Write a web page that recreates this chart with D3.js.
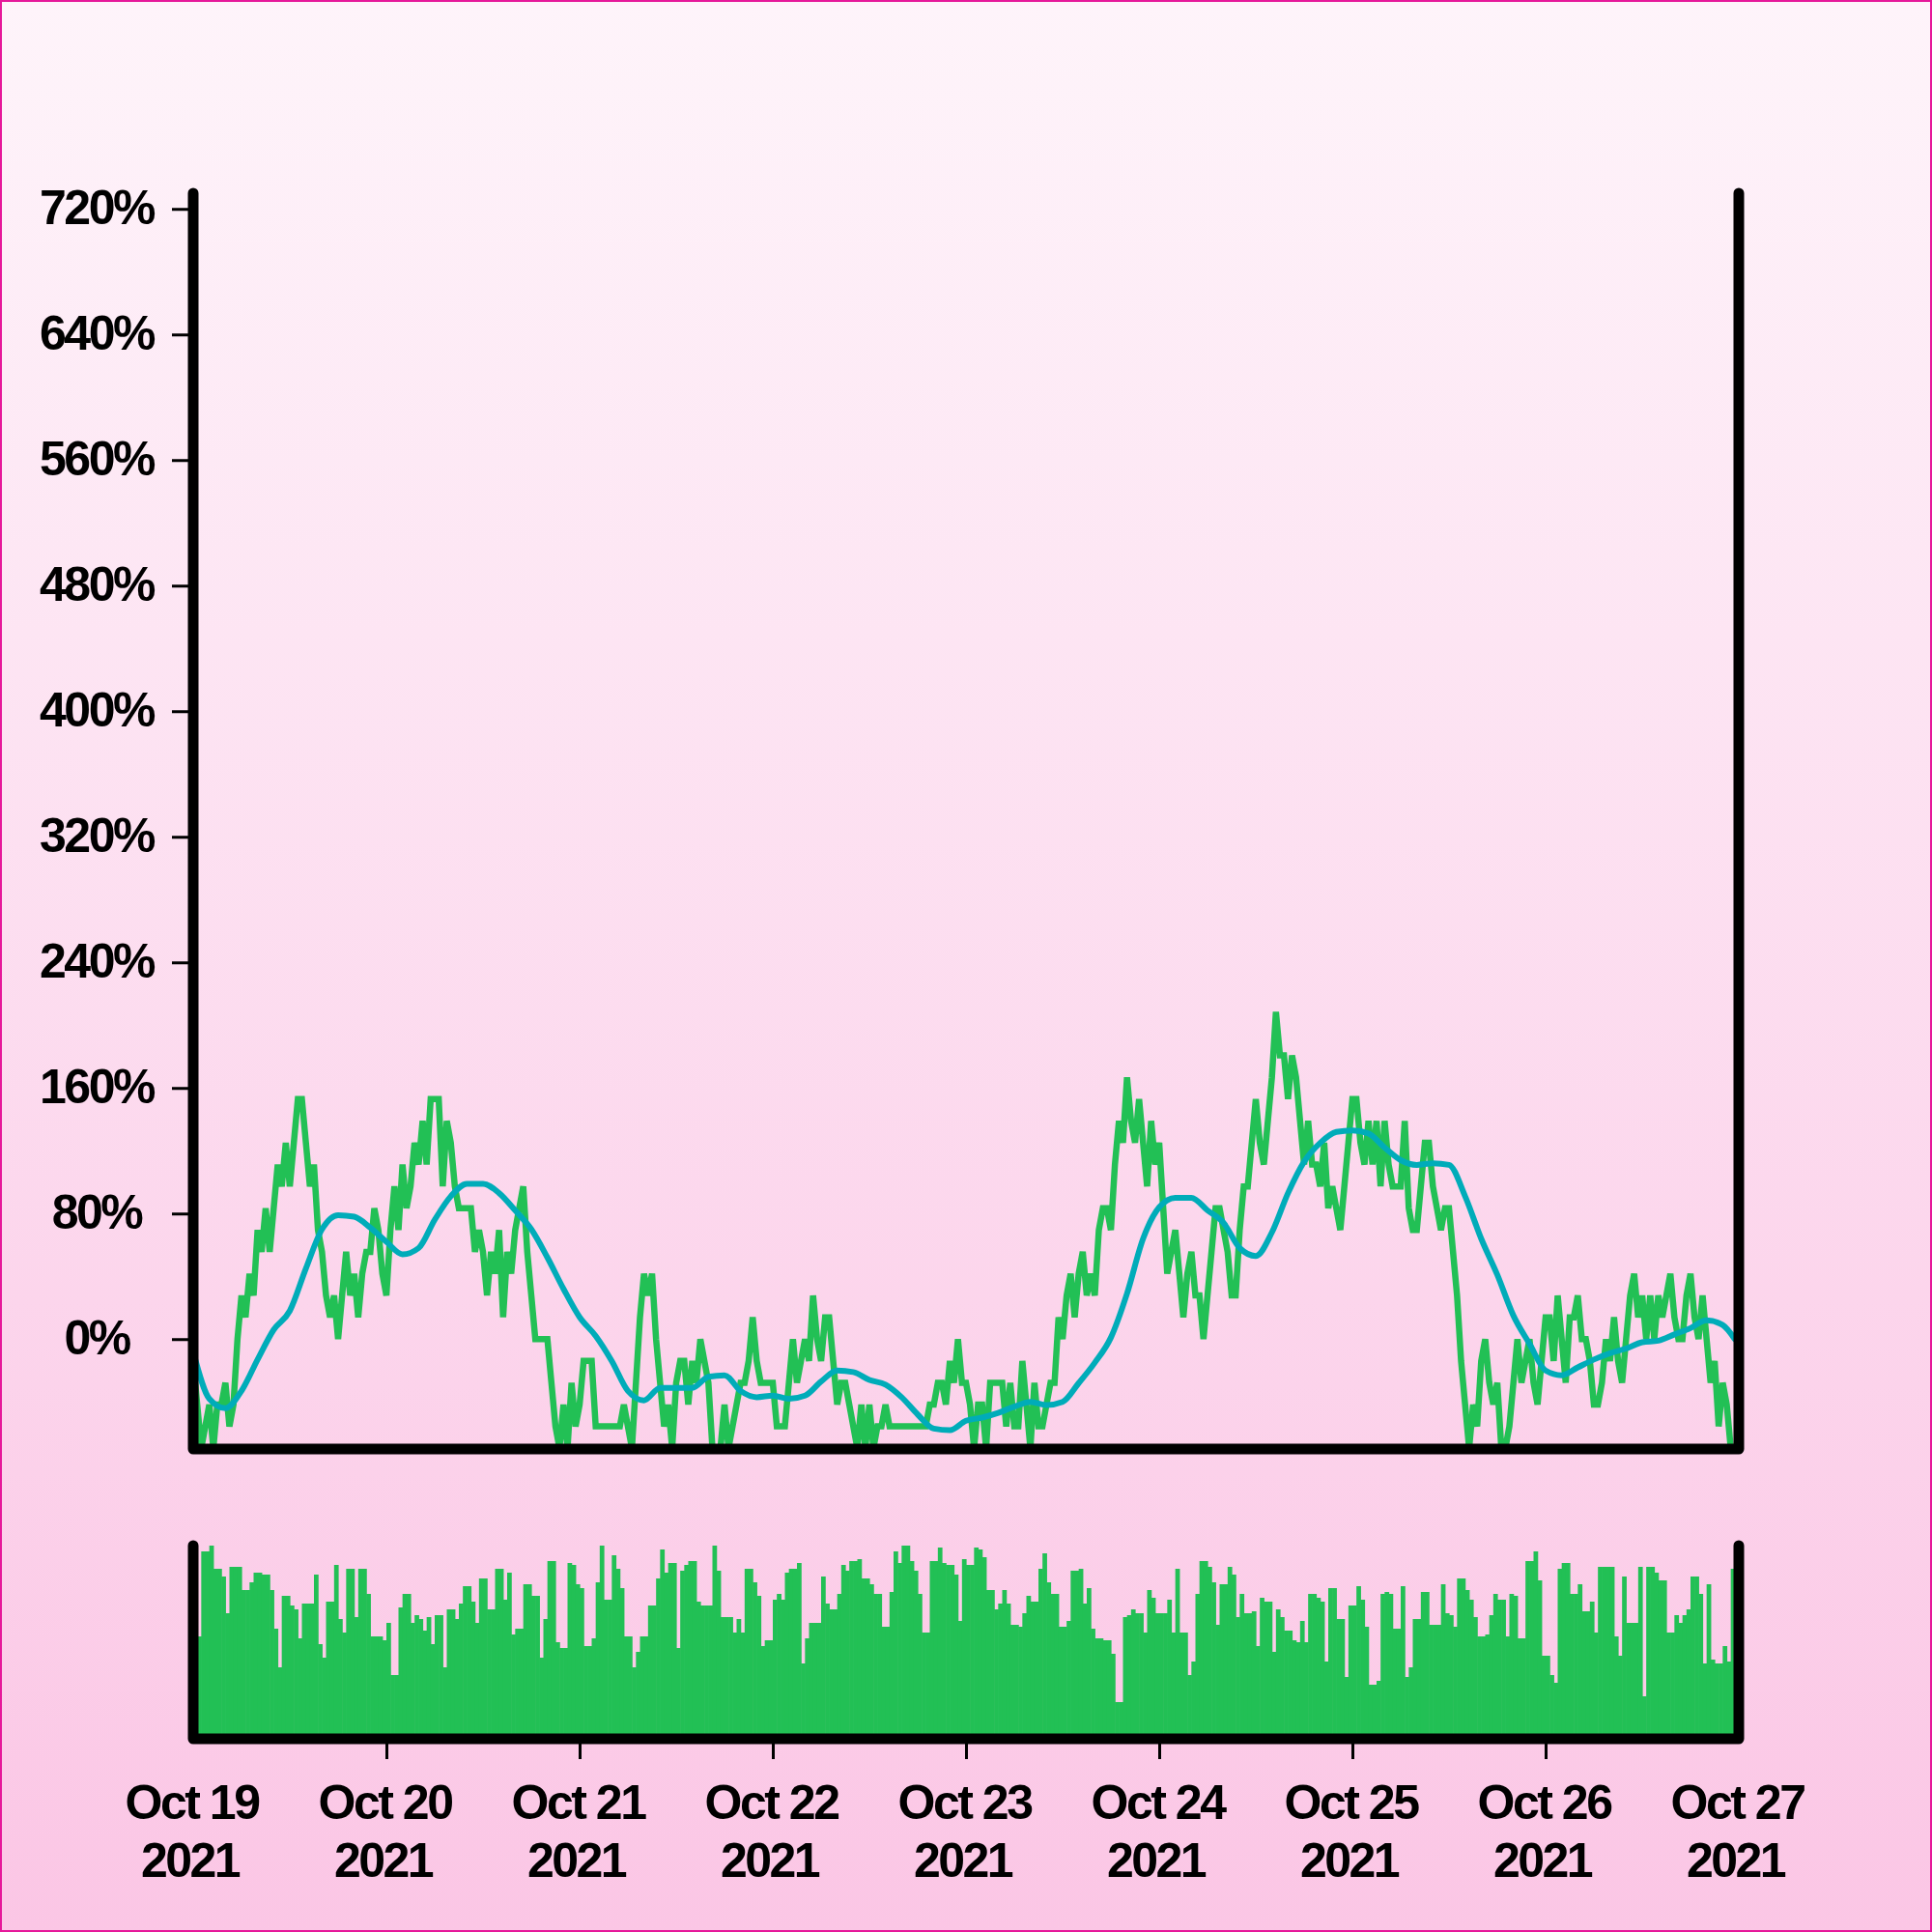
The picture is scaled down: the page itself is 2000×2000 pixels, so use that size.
<!DOCTYPE html>
<html><head><meta charset="utf-8">
<script src="https://cdn.jsdelivr.net/npm/d3@7"></script>
<style>
html,body{margin:0;padding:0;background:#fff;}
svg{display:block;}
</style></head><body>
<svg id="chart" width="2000" height="2000"></svg>
<script>
const startDate = new Date(2021, 9, 19);
const endDate = new Date(2021, 9, 27);
const stepMinutes = 30;
const yTicks = [0, 80, 160, 240, 320, 400, 480, 560, 640, 720];
const yDomain = [-70, 730];

// price change (%) every 30 minutes
const priceChange = [
-13.9,-41.7,-69.5,-55.6,-41.7,-69.5,-41.7,-41.7,-27.8,-55.6,
-41.7,0,27.8,13.9,41.7,27.8,69.5,55.6,83.4,55.6,
83.4,111.2,97.3,125.1,97.3,125.1,152.9,152.9,125.1,97.3,
111.2,69.5,55.6,27.8,13.9,27.8,0,27.8,55.6,27.8,
41.7,13.9,41.7,55.6,55.6,83.4,69.5,41.7,27.8,69.5,
97.3,69.5,111.2,83.4,97.3,125.1,111.2,139,111.2,152.9,
152.9,152.9,97.3,139,125.1,97.3,83.4,83.4,83.4,83.4,
55.6,69.5,55.6,27.8,55.6,41.7,69.5,13.9,55.6,41.7,
69.5,83.4,97.3,55.6,27.8,0,0,0,0,-27.8,
-55.6,-69.5,-41.7,-69.5,-27.8,-55.6,-41.7,-13.9,-13.9,-13.9,
-55.6,-55.6,-55.6,-55.6,-55.6,-55.6,-55.6,-41.7,-55.6,-69.5,
-27.8,13.9,41.7,27.8,41.7,0,-27.8,-55.6,-41.7,-69.5,
-27.8,-13.9,-13.9,-41.7,-13.9,-27.8,0,-13.9,-27.8,-69.5,
-69.5,-69.5,-41.7,-69.5,-55.6,-41.7,-27.8,-27.8,-13.9,13.9,
-13.9,-27.8,-27.8,-27.8,-27.8,-55.6,-55.6,-55.6,-27.8,0,
-27.8,-13.9,0,-13.9,27.8,0,-13.9,13.9,13.9,-13.9,
-41.7,-27.8,-27.8,-41.7,-55.6,-69.5,-41.7,-69.5,-41.7,-69.5,
-55.6,-55.6,-41.7,-55.6,-55.6,-55.6,-55.6,-55.6,-55.6,-55.6,
-55.6,-55.6,-55.6,-41.7,-41.7,-27.8,-27.8,-41.7,-13.9,-27.8,
0,-27.8,-27.8,-41.7,-69.5,-41.7,-41.7,-69.5,-27.8,-27.8,
-27.8,-27.8,-55.6,-27.8,-55.6,-55.6,-13.9,-41.7,-69.5,-27.8,
-55.6,-55.6,-41.7,-27.8,-27.8,13.9,0,27.8,41.7,13.9,
41.7,55.6,27.8,41.7,27.8,69.5,83.4,83.4,69.5,111.2,
139,125.1,166.8,139,125.1,152.9,125.1,97.3,139,111.2,
125.1,83.4,41.7,55.6,69.5,41.7,13.9,41.7,55.6,27.8,
27.8,0,27.8,55.6,83.4,83.4,69.5,55.6,27.8,27.8,
69.5,97.3,97.3,125.1,152.9,125.1,111.2,139,166.8,208.5,
180.7,180.7,152.9,180.7,166.8,139,111.2,139,111.2,111.2,
97.3,125.1,83.4,97.3,83.4,69.5,97.3,125.1,152.9,152.9,
125.1,111.2,139,111.2,139,97.3,139,111.2,97.3,97.3,
97.3,139,83.4,69.5,69.5,97.3,125.1,125.1,97.3,83.4,
69.5,83.4,83.4,55.6,27.8,-13.9,-41.7,-69.5,-41.7,-55.6,
-13.9,0,-27.8,-41.7,-27.8,-69.5,-69.5,-55.6,-27.8,0,
-27.8,-13.9,0,-27.8,-41.7,-13.9,13.9,13.9,-13.9,27.8,
0,-27.8,13.9,13.9,27.8,0,0,-13.9,-41.7,-41.7,
-27.8,0,-13.9,13.9,-13.9,-27.8,0,27.8,41.7,13.9,
27.8,0,27.8,0,27.8,13.9,27.8,41.7,13.9,0,
0,27.8,41.7,13.9,0,27.8,0,-27.8,-13.9,-55.6,
-27.8,-41.7,-69.5,-69.5
];

// moving average (%) sampled every 2 hours
const movingAvgHours = [0,2,4,6,8,10,12,14,16,18,20,22,24,26,28,30,32,34,36,38,40,42,44,46,48,50,52,54,56,58,60,62,64,66,68,70,72,74,76,78,80,82,84,86,88,90,92,94,96,98,100,102,104,106,108,110,112,114,116,118,120,122,124,126,128,130,132,134,136,138,140,142,144,146,148,150,152,154,156,158,160,162,164,166,168,170,172,174,176,178,180,182,184,186,188,190,191.5];
const movingAvg = [
-8,-38,-44,-33,-13,6,18,45,70,79,
78,71,62,54,58,76,91,99,99,93,
82,70,52,32,14,2,-14,-33,-39,-31,
-31,-31,-24,-23,-33,-37,-36,-38,-36,-27,
-20,-21,-26,-29,-37,-48,-57,-58,-52,-50,
-47,-43,-40,-42,-40,-28,-15,1,29,64,
84,90,90,82,74,58,53,68,93,113,
125,132,133,131,122,114,111,112,111,91,
64,41,15,-3,-20,-23,-18,-13,-9,-6,
-2,-1,3,7,12,9,0
];

// volume (relative) every 30 minutes
const volume = [
53,53,97,97,100,88,88,84,65,89,89,89,
77,77,81,86,86,85,85,77,57,37,74,74,
69,67,52,70,70,70,85,49,42,71,71,90,
62,55,88,88,63,88,88,75,53,53,53,51,
60,33,33,68,75,75,60,64,62,56,63,49,
64,64,37,67,67,62,70,79,79,71,60,83,
83,67,67,88,88,72,86,54,57,57,80,80,
74,74,42,62,92,92,50,47,47,91,90,80,
78,48,48,52,81,100,72,72,95,88,78,53,
53,37,45,53,53,69,69,83,98,86,91,91,
47,87,90,92,92,71,69,69,69,100,87,63,
63,63,55,62,55,88,88,81,74,48,51,51,
72,75,72,86,88,88,91,39,52,60,60,60,
84,70,67,67,75,90,87,92,92,93,83,83,
80,75,75,58,58,76,97,91,100,100,92,87,
75,55,55,92,92,99,91,90,90,85,61,93,
90,90,99,98,94,77,77,67,70,77,70,59,
59,58,65,74,71,71,88,96,81,75,75,58,
58,61,87,87,88,70,78,57,52,52,51,51,
44,19,19,63,64,67,65,65,55,77,73,65,
65,65,72,55,88,55,55,33,40,75,92,92,
89,81,59,80,80,89,85,63,75,65,65,66,
48,73,71,71,45,67,63,56,56,51,50,61,
50,75,75,73,71,40,78,78,62,62,32,69,
69,79,72,58,28,28,30,75,76,75,57,57,
79,32,37,62,62,76,76,59,59,59,80,65,
64,58,83,83,77,72,63,53,53,54,64,75,
72,72,53,75,74,52,52,92,92,97,82,43,
43,33,29,88,91,91,75,75,80,66,66,71,
55,89,89,89,89,53,43,84,60,60,60,89,
22,89,89,86,82,82,55,55,64,60,64,67,
84,84,75,39,80,41,39,39,48,40,88,91
];

const GREEN = "#22c055";
const TEAL = "#00acb9";
const FONT = "'Liberation Sans', Arial, Helvetica, sans-serif";

const svg = d3.select("#chart");
const defs = svg.append("defs");
const grad = defs.append("linearGradient").attr("id", "bg")
  .attr("x1", 0).attr("y1", 0).attr("x2", 0).attr("y2", 1);
grad.append("stop").attr("offset", "0%").attr("stop-color", "#fef4fa");
grad.append("stop").attr("offset", "100%").attr("stop-color", "#fbc6e5");
svg.append("rect").attr("width", 2000).attr("height", 2000).attr("fill", "url(#bg)");
svg.append("rect").attr("x", 1).attr("y", 1).attr("width", 1998).attr("height", 1998)
  .attr("fill", "none").attr("stroke", "#e6189a").attr("stroke-width", 2);

const x = d3.scaleTime().domain([startDate, endDate]).range([200, 1800]);
const y = d3.scaleLinear().domain(yDomain).range([1500, 200]);
const yv = d3.scaleLinear().domain([0, d3.max(volume)]).range([1800, 1600]);
const times = priceChange.map((_, i) => d3.timeMinute.offset(startDate, i * stepMinutes));

// volume bars
svg.append("g").selectAll("rect").data(volume).join("rect")
  .attr("x", (d, i) => x(times[i]))
  .attr("width", (d, i) => x(d3.timeMinute.offset(times[i], stepMinutes)) - x(times[i]) + 0.6)
  .attr("y", d => yv(d))
  .attr("height", d => yv(0) - yv(d))
  .attr("fill", GREEN);

// price line
svg.append("path").datum(priceChange)
  .attr("fill", "none").attr("stroke", GREEN).attr("stroke-width", 6.5)
  .attr("d", d3.line().x((d, i) => x(times[i])).y(d => y(d)));

// moving average
svg.append("path").datum(movingAvg)
  .attr("fill", "none").attr("stroke", TEAL).attr("stroke-width", 6).attr("stroke-linecap", "round")
  .attr("d", d3.line()
    .x((d, i) => x(d3.timeMinute.offset(startDate, movingAvgHours[i] * 60)))
    .y(d => y(d)).curve(d3.curveMonotoneX));

// frames
const [xl, xr] = x.range();
const [yb, yt] = y.range();
const [vb, vt] = yv.range();
svg.append("path").attr("d", `M${xl},${yt}V${yb}H${xr}V${yt}`)
  .attr("fill", "none").attr("stroke", "#000").attr("stroke-width", 11)
  .attr("stroke-linecap", "round").attr("stroke-linejoin", "round");
svg.append("path").attr("d", `M${xl},${vt}V${vb}H${xr}V${vt}`)
  .attr("fill", "none").attr("stroke", "#000").attr("stroke-width", 11)
  .attr("stroke-linecap", "round").attr("stroke-linejoin", "round");

// y axis
const yAxis = svg.append("g").attr("transform", `translate(${xl},0)`)
  .call(d3.axisLeft(y).tickValues(yTicks).tickFormat(d => d + "%").tickSize(22));
yAxis.select(".domain").remove();
yAxis.selectAll(".tick line").attr("stroke", "#000").attr("stroke-width", 3);
yAxis.selectAll(".tick text")
  .attr("x", -100).attr("dy", "0.3em")
  .attr("text-anchor", "middle")
  .attr("fill", "#000")
  .style("font-family", FONT).style("font-size", "50px").style("font-weight", "bold")
  .style("letter-spacing", "-2.5px");

// x axis
const xAxis = svg.append("g").attr("transform", `translate(0,${vb})`)
  .call(d3.axisBottom(x).ticks(d3.timeDay.every(1)).tickSize(21).tickFormat(""));
xAxis.select(".domain").remove();
const nTicks = xAxis.selectAll(".tick").size();
xAxis.selectAll(".tick line").attr("stroke", "#000").attr("stroke-width", 3)
  .attr("opacity", (d, i) => (i === 0 || i === nTicks - 1) ? 0 : 1);
xAxis.selectAll(".tick text").each(function(d) {
  const t = d3.select(this);
  t.attr("y", null).attr("dy", null).text(null)
    .attr("text-anchor", "middle").attr("fill", "#000")
    .style("font-family", FONT).style("font-size", "50px").style("font-weight", "bold")
    .style("letter-spacing", "-2.5px");
  t.append("tspan").attr("x", -2).attr("y", 83).text(d3.timeFormat("%b %d")(d));
  t.append("tspan").attr("x", -4).attr("y", 143).text(d3.timeFormat("%Y")(d));
});
</script>
</body></html>
